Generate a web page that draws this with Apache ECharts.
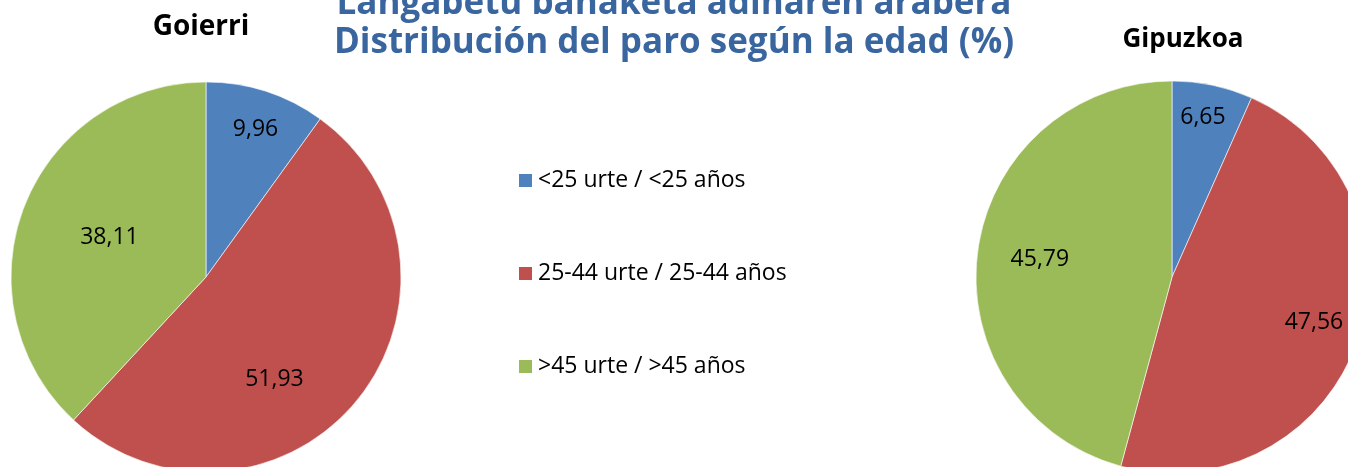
<!DOCTYPE html>
<html>
<head>
<meta charset="utf-8">
<script src="https://cdn.jsdelivr.net/npm/echarts@6/dist/echarts.min.js"></script>
<style>
  html, body { margin: 0; padding: 0; background: #fff; }
  #chart { width: 1348px; height: 467px; }
</style>
</head>
<body>
<div id="chart"></div>
<script>
// datos
const categories = ['<25 urte / <25 años', '25-44 urte / 25-44 años', '>45 urte / >45 años']
const goierriValues = [9.96, 51.93, 38.11]
const gipuzkoaValues = [6.65, 47.56, 45.79]
const colors = ['#4F81BD', '#C0504D', '#9BBB59']

const font = '"Open Sans", "Noto Sans", sans-serif'

// posicion de las etiquetas dentro del sector: [fraccion del radio, giro en grados]
const goierriLabelPos = [[0.8, 0.6], [0.63, 16.8], [0.535, 0.9]]
const gipuzkoaLabelPos = [[0.83, -1], [0.76, -1.9], [0.68, 0]]

const pies = [
  { name: 'Goierri', values: goierriValues, center: [206, 277], radius: 195, labelPos: goierriLabelPos },
  { name: 'Gipuzkoa', values: gipuzkoaValues, center: [1172, 277], radius: 196, labelPos: gipuzkoaLabelPos }
]

const chart = echarts.init(document.getElementById('chart'))

const seriesArr = pies.map(p => {
  return {
    type: 'pie',
    name: p.name,
    center: p.center,
    radius: [0, p.radius],
    startAngle: 90,
    clockwise: true,
    animation: false,
    emphasis: { disabled: true },
    itemStyle: { borderColor: '#fff', borderWidth: 0.6 },
    label: {
      show: true,
      position: 'inside',
      color: '#000',
      fontFamily: font,
      fontSize: 23,
      formatter: params => params.value.toFixed(2).replace('.', ',')
    },
    labelLine: { show: false },
    labelLayout: params => {
      // mover la etiqueta en coordenadas polares respecto al centro del pie
      const r = params.labelRect
      const lx = r.x + r.width / 2
      const ly = r.y + r.height / 2
      const dx = lx - p.center[0]
      const dy = ly - p.center[1]
      const ang = Math.atan2(dx, -dy) + p.labelPos[params.dataIndex][1] * Math.PI / 180
      const dist = p.labelPos[params.dataIndex][0] * p.radius
      return {
        x: p.center[0] + dist * Math.sin(ang),
        y: p.center[1] - dist * Math.cos(ang),
        align: 'center',
        verticalAlign: 'middle'
      }
    },
    data: p.values.map((v, i) => ({
      name: categories[i],
      value: v,
      itemStyle: { color: colors[i] }
    }))
  }
})

const option = {
  backgroundColor: '#fff',
  animation: false,
  title: {
    text: 'Langabetu banaketa adinaren arabera\nDistribución del paro según la edad (%)',
    left: 'center',
    top: -15,
    padding: 0,
    textStyle: {
      color: '#3A66A0',
      fontFamily: font,
      fontWeight: 'bold',
      fontSize: 35,
      lineHeight: 39
    }
  },
  legend: {
    orient: 'vertical',
    left: 517,
    top: 169,
    padding: 0,
    itemWidth: 15,
    itemHeight: 15,
    itemGap: 70,
    icon: 'rect',
    selectedMode: false,
    data: categories,
    textStyle: {
      color: '#000',
      fontFamily: font,
      fontSize: 23,
      lineHeight: 21
    }
  },
  graphic: [
    {
      type: 'text',
      x: 201,
      y: 27,
      style: {
        text: 'Goierri',
        fill: '#000',
        font: 'bold 28px ' + font,
        textAlign: 'center',
        textVerticalAlign: 'middle'
      }
    },
    {
      type: 'text',
      x: 1183,
      y: 40,
      style: {
        text: 'Gipuzkoa',
        fill: '#000',
        font: 'bold 26px ' + font,
        textAlign: 'center',
        textVerticalAlign: 'middle'
      }
    }
  ],
  series: seriesArr
}

chart.setOption(option)
</script>
</body>
</html>
